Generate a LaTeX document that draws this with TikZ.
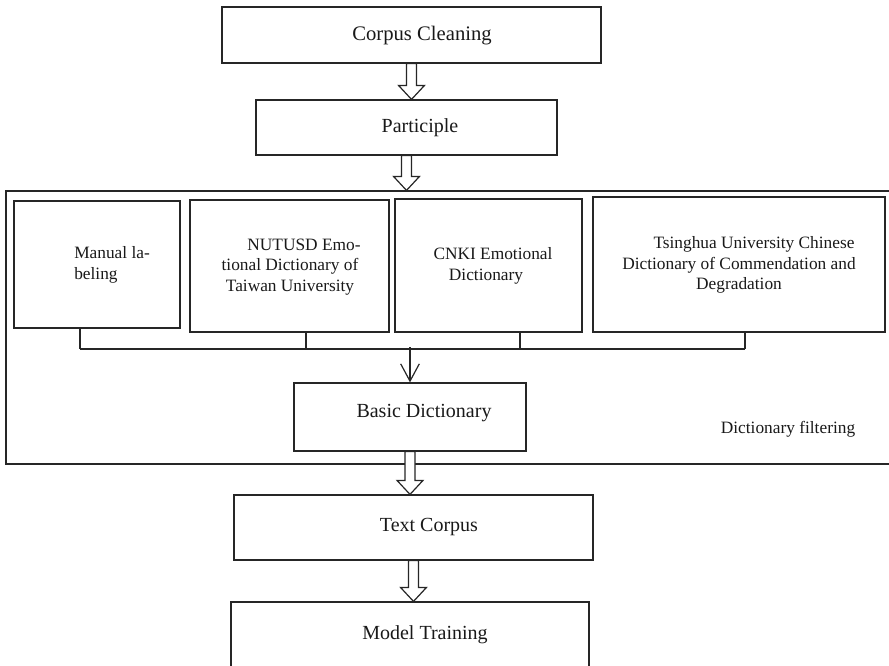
\documentclass[tikz,border=0pt]{standalone}
\usepackage{fontspec}
\setmainfont{Liberation Serif}
\usetikzlibrary{calc,arrows.meta}
\newcommand{\hollowarrow}[2]{%
  \draw[harrowst] let \p1=#1, \p2=#2 in
  (\x1-3.75pt,\y1) -- (\x1-3.75pt,\y2+10.5pt) -- (\x1-9.75pt,\y2+10.5pt) -- (\x1,\y2)
  -- (\x1+9.75pt,\y2+10.5pt) -- (\x1+3.75pt,\y2+10.5pt) -- (\x1+3.75pt,\y1) -- cycle;}
\begin{document}
\begin{tikzpicture}[x=0.75pt,y=-0.75pt,
  box/.style={draw=black!85, line width=0.9pt, rectangle, inner sep=0pt},
  maintxt/.style={font=\fontsize{15}{18}\selectfont, inner sep=0pt, text=black!90},
  smalltxt/.style={font=\fontsize{13}{15.5}\selectfont, align=center, inner sep=0pt, text=black!90},
  harrowst/.style={draw=black!85, line width=0.9pt, fill=white, line join=miter},
  conn/.style={draw=black!85, line width=0.9pt},
]
\useasboundingbox (0,0) rectangle (889,665);
\clip (0,0) rectangle (889,665);

% outer frame
\node[box, minimum width=666.75pt, minimum height=204.75pt] (frame) at (450.5,327.5) {};

% main flow boxes
\node[box, minimum width=284.25pt, minimum height=42pt] (cc) at (411.5,35) {};
\node[maintxt, font=\fontsize{15.5}{18}\selectfont] (cct) at (422,36) {Corpus Cleaning};
\node[box, minimum width=225.75pt, minimum height=41.25pt] (part) at (406.5,127.5) {};
\node[maintxt] (partt) at (420,128) {Participle};

% dictionary boxes
\node[box, minimum width=124.5pt, minimum height=95.25pt] (manual) at (97,264.5) {};
\node[smalltxt, align=left, anchor=west] (manualt) at (74,265) {Manual la-\\beling};
\node[box, minimum width=149.25pt, minimum height=99pt] (nutusd) at (289.5,266) {};
\node[smalltxt] (nutusdt) at (290,267) {\hspace*{21pt}NUTUSD Emo-\\tional Dictionary of\\Taiwan University};
\node[box, minimum width=140.25pt, minimum height=99.75pt] (cnki) at (488.5,265.5) {};
\node[smalltxt] (cnkit) at (486,266) {\hspace*{10.5pt}CNKI Emotional\\Dictionary};
\node[box, minimum width=219pt, minimum height=101.25pt] (tsing) at (739,264.5) {};
\node[smalltxt] (tsingt) at (739,265) {\hspace*{22.5pt}Tsinghua University Chinese\\Dictionary of Commendation and\\Degradation};

% basic dictionary
\node[box, minimum width=174pt, minimum height=51pt] (basic) at (410,417) {};
\node[maintxt] (basict) at (424,413) {Basic Dictionary};
\node[smalltxt] (filt) at (788,429) {Dictionary filtering};

% lower boxes
\node[box, minimum width=269.25pt, minimum height=48.75pt] (textc) at (413.5,527.5) {};
\node[maintxt] (textct) at (429,527) {Text Corpus};
\node[box, minimum width=268.5pt, minimum height=51pt] (model) at (410,636) {};
\node[maintxt] (modelt) at (425,635) {Model Training};

% bus connector
\coordinate (busL) at (80,349);
\coordinate (busR) at (745,349);
\coordinate (t1) at ([xshift=-12.75pt]manual.south);
\coordinate (t2) at ([xshift=12.4pt]nutusd.south);
\coordinate (t3) at ([xshift=23.6pt]cnki.south);
\coordinate (t4) at ([xshift=4.5pt]tsing.south);
\draw[conn] (busL) -- (busR);
\draw[conn] (t1) -- (t1 |- busL);
\draw[conn] (t2) -- (t2 |- busL);
\draw[conn] (t3) -- (t3 |- busL);
\draw[conn] (t4) -- (t4 |- busL);
\coordinate (busdown) at ([yshift=1.5pt]basic.north |- busL);
\draw[conn, -{Straight Barb[length=13pt,width=14pt,line width=0.9pt]}] (busdown) -- (basic.north);

% hollow arrows
\hollowarrow{(cc.south)}{(part.north)}
\hollowarrow{(part.south)}{(part.south |- frame.north)}
\hollowarrow{(basic.south)}{(basic.south |- textc.north)}
\hollowarrow{(textc.south)}{(model.north)}
\end{tikzpicture}
\end{document}
